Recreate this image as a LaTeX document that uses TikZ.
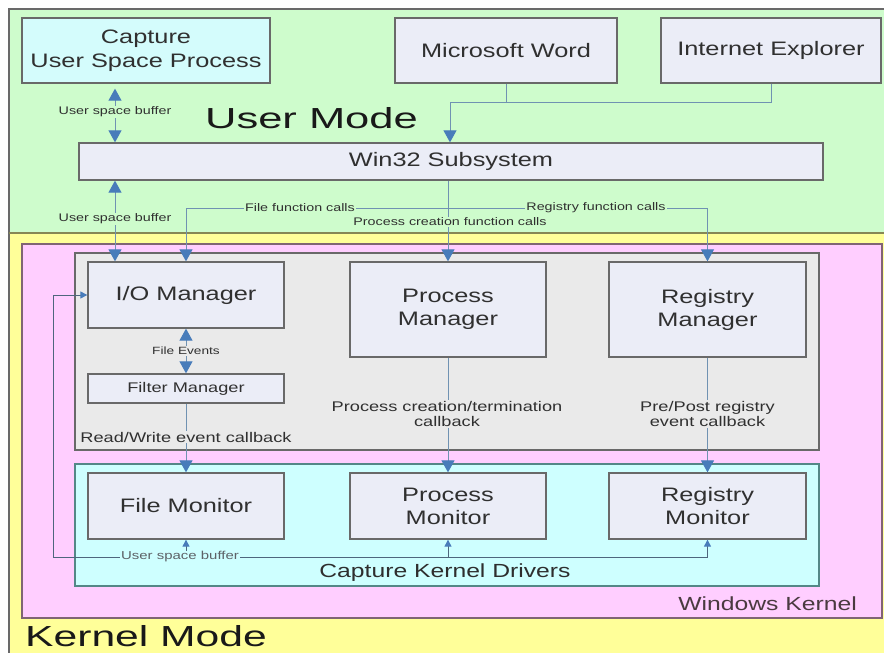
\documentclass[tikz,border=0pt]{standalone}
\usepackage{fontspec}
\setmainfont{Liberation Sans}
\usepackage{graphicx}
\usetikzlibrary{arrows.meta}

\definecolor{usergreen}{RGB}{206,252,204}
\definecolor{kernyellow}{RGB}{255,255,153}
\definecolor{winpink}{RGB}{255,206,255}
\definecolor{mgrgray}{RGB}{234,234,234}
\definecolor{drvcyan}{RGB}{206,255,255}
\definecolor{boxfill}{RGB}{235,237,247}
\definecolor{capfill}{RGB}{212,252,252}
\definecolor{edgegray}{RGB}{105,105,105}
\definecolor{pinkedge}{RGB}{128,100,116}
\definecolor{wireblue}{RGB}{112,146,178}
\definecolor{tipblue}{RGB}{72,124,186}
\definecolor{txt}{RGB}{48,48,48}

% horizontally widened lettering
\newcommand{\hs}[2][1.3]{\scalebox{#1}[1]{#2}}

\tikzset{
  box/.style={draw=edgegray, line width=1.3pt, fill=boxfill, text=txt, inner sep=0pt,
    align=center, font=\fontsize{19.5}{23}\selectfont},
  smallbox/.style={box, font=\fontsize{14}{16}\selectfont},
  wire/.style={draw=wireblue, line width=1pt},
  to big/.style={-{Triangle[length=12pt,width=13pt,color=tipblue]}},
  both big/.style={{Triangle[length=12pt,width=13pt,color=tipblue]}-{Triangle[length=12pt,width=13pt,color=tipblue]}},
  to small/.style={-{Triangle[length=7pt,width=7pt,color=tipblue]}},
  lbl/.style={font=\fontsize{11}{13}\selectfont, text=txt, inner sep=1pt, fill=#1},
  cb/.style={font=\fontsize{14}{15.5}\selectfont, text=txt, inner sep=1pt, fill=mgrgray, align=center},
  modetitle/.style={font=\fontsize{29}{32}\selectfont, text=black!90, inner sep=0pt},
  areatitle/.style={font=\fontsize{19}{22}\selectfont, inner sep=0pt},
}

\begin{document}
\begin{tikzpicture}[x=1pt,y=-1pt]
\useasboundingbox (0,0) rectangle (884,653);
\fill[white] (0,0) rectangle (884,653);

% user / kernel mode areas
\fill[kernyellow] (9,233) rectangle (890,660);
\fill[usergreen] (9,9) rectangle (890,233);
\draw[edgegray, line width=1.2pt] (890,9) -- (9,9) -- (9,660);
\draw[edgegray!80!yellow, line width=1.4pt] (9,233) -- (890,233);

% windows kernel area
\draw[fill=winpink, draw=pinkedge, line width=1.3pt] (22,244) rectangle (882,618);
\draw[fill=mgrgray, draw=edgegray, line width=1.3pt] (75,253) rectangle (819,450);
\draw[fill=drvcyan, draw=edgegray!80!cyan, line width=1.3pt] (75,464) rectangle (819,586);

% helper coordinates for the routed connectors
\coordinate (ubx) at (115,0);
\coordinate (merge) at (450,102);
\coordinate (fcl) at (186,208);
\coordinate (fcr) at (707.5,208);
\coordinate (fbl) at (53,557);

% boxes
\node[box, fill=capfill, minimum width=248pt, minimum height=65pt] (cap) at (146,50.5)
  {\hs{Capture}\\[1pt]\hs{User Space Process}};
\node[box, minimum width=222pt, minimum height=65pt] (word) at (506,50.5) {\hs{Microsoft Word}};
\node[box, minimum width=220pt, minimum height=65pt] (ie) at (771,50.5) {\hs{Internet Explorer}};
\node[box, minimum width=744pt, minimum height=37pt] (win32) at (451,161.5) {\hs{Win32 Subsystem}};

\node[box, minimum width=196pt, minimum height=66pt] (iomgr) at (186,295) {\hs{I/O Manager}};
\node[box, minimum width=196pt, minimum height=95pt] (procmgr) at (448,309.5) {\hs{Process}\\\hs{Manager}};
\node[box, minimum width=197pt, minimum height=95pt] (regmgr) at (707.5,309.5) {\hs{Registry}\\\hs{Manager}};
\node[smallbox, minimum width=196pt, minimum height=29pt] (filter) at (186,388.5) {\hs{Filter Manager}};

\node[box, minimum width=196pt, minimum height=66pt] (filemon) at (186,506) {\hs{File Monitor}};
\node[box, minimum width=196pt, minimum height=66pt] (procmon) at (448,506) {\hs{Process}\\\hs{Monitor}};
\node[box, minimum width=197pt, minimum height=66pt] (regmon) at (707.5,506) {\hs{Registry}\\\hs{Monitor}};

% user mode connectors
\draw[wire, both big, shorten <=5pt] (cap.south -| ubx) -- (win32.north -| ubx);
\draw[wire, both big] (win32.south -| ubx) -- (iomgr.north -| ubx);
\draw[wire] (word.south) |- (merge);
\draw[wire] (ie.south) |- (merge);
\draw[wire, to big] (merge) -- (merge |- win32.north);
\draw[wire, to big] (win32.south -| procmgr.north) -- (procmgr.north);
\draw[wire, to big] (fcl) -- (iomgr.north -| fcl);
\draw[wire] (fcl) -- (fcr);
\draw[wire, to big] (fcr) -- (regmgr.north);

% kernel connectors
\draw[wire, both big] (iomgr.south) -- (filter.north);
\draw[wire, to big] (filter.south) -- (filemon.north);
\draw[wire, to big] (procmgr.south) -- (procmon.north);
\draw[wire, to big] (regmgr.south) -- (regmon.north);

% user space buffer feedback
\draw[wire, draw=wireblue!70!black] (fbl) -- (fbl -| regmon.south);
\draw[wire, draw=wireblue!70!black, to small] (fbl) -- (fbl |- iomgr.west) -- (iomgr.west);
\draw[wire, draw=wireblue!70!black, to small] (fbl -| filemon.south) -- (filemon.south);
\draw[wire, draw=wireblue!70!black, to small] (fbl -| procmon.south) -- (procmon.south);
\draw[wire, draw=wireblue!70!black, to small] (fbl -| regmon.south) -- (regmon.south);

% connector labels
\node[lbl=usergreen] (ub1) at (115,112) {\hs{User space buffer}};
\node[lbl=usergreen] (ub2) at (115,219) {\hs{User space buffer}};
\node[lbl=usergreen] (ffc) at (300,208) {\hs{File function calls}};
\node[lbl=usergreen] (rfc) at (596,208) {\hs{Registry function calls}};
\node[lbl=usergreen] (pfc) at (450,222) {\hs{Process creation function calls}};
\node[lbl=mgrgray, font=\fontsize{10.5}{12}\selectfont] (fev) at (186,351) {\hs{File Events}};
\node[cb] (rwcb) at (186,437) {\hs{Read/Write event callback}};
\node[cb] (pccb) at (447,414) {\hs{Process creation/termination}\\\hs{callback}};
\node[cb] (rgcb) at (707.5,414) {\hs{Pre/Post registry}\\\hs{event callback}};
\node[lbl=drvcyan, font=\fontsize{11.5}{13}\selectfont, text=black!80!cyan!60!gray] (ub3) at (180,557) {\hs{User space buffer}};

% area titles
\node[modetitle, anchor=base] (umode) at (311.5,128) {\hs[1.5]{User Mode}};
\node[modetitle, anchor=base west] (kmode) at (25,646) {\hs[1.47]{Kernel Mode}};
\node[areatitle, anchor=base east, text=black!82!magenta] (wk) at (857,610) {\hs{Windows Kernel}};
\node[areatitle, anchor=base, text=black!82] (ckd) at (445,577) {\hs{Capture Kernel Drivers}};
\end{tikzpicture}
\end{document}
